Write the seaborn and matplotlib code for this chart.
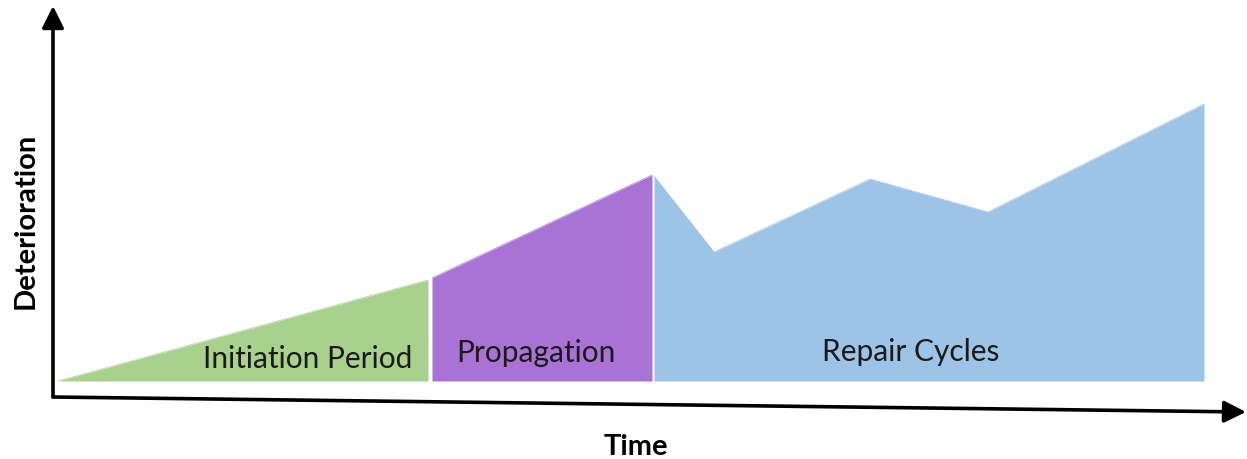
import matplotlib
matplotlib.use("Agg")
import matplotlib.pyplot as plt
import seaborn as sns
import pandas as pd

# phase outlines: time vs deterioration (arbitrary units, baseline = 0)
init_t = [58, 428]
init_d = [0, 101]
prop_t = [432, 652]
prop_d = [103, 206]
repair_t = [654, 714, 870, 988, 1204]
repair_d = [205, 129, 202, 169, 277]

phase_labels = ["Initiation Period", "Propagation", "Repair Cycles"]
phase_colors = ["#a9d18e", "#a973d6", "#9dc3e6"]

sns.set_theme(style="white")
plt.rcParams["font.family"] = ["Lato", "DejaVu Sans"]

fig = plt.figure(figsize=(12.47, 4.59), dpi=100)
ax = fig.add_axes([0, 0, 1, 1])
ax.set_xlim(0, 1247)
ax.set_ylim(-78, 381)
ax.axis("off")

phases = [(init_t, init_d), (prop_t, prop_d), (repair_t, repair_d)]
for (t, d), c in zip(phases, phase_colors):
    df = pd.DataFrame({"t": t, "d": d})
    sns.lineplot(data=df, x="t", y="d", color=c, linewidth=0.5, ax=ax)
    ax.fill_between(t, 0, d, color=c, linewidth=0)

# labels inside the areas
ax.text(308, 13, phase_labels[0], ha="center", va="baseline", fontsize=21.5, color="#1a1a1a")
ax.text(536, 19, phase_labels[1], ha="center", va="baseline", fontsize=21.5, color="#1a1a1a")
ax.text(911, 20, phase_labels[2], ha="center", va="baseline", fontsize=21.5, color="#1a1a1a")

# axis arrows
arrow = dict(arrowstyle="-|>,head_length=1.1,head_width=0.55", color="black",
             linewidth=2.6, shrinkA=0, shrinkB=0)
ax.annotate("", xy=(53, 375), xytext=(53, -16), arrowprops=arrow)
ax.annotate("", xy=(1246, -31), xytext=(53, -16), arrowprops=arrow)

ax.text(26, 160, "Deterioration", rotation=90, ha="center", va="center",
        fontsize=21, fontweight="bold", color="black")
ax.text(636, -66, "Time", ha="center", va="center",
        fontsize=21, fontweight="bold", color="black")

plt.savefig("out.png", dpi=100)
plt.close()
